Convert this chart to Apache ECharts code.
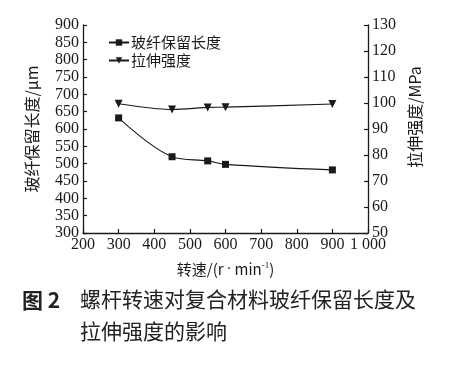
<!DOCTYPE html>
<html><head><meta charset="utf-8">
<script src="https://cdn.jsdelivr.net/npm/echarts@6/dist/echarts.min.js"></script>
<style>html,body{margin:0;padding:0;background:#fff}#c{width:454px;height:366px}</style>
</head><body><div id="c"></div>
<script>
const speeds = [300, 450, 550, 600, 900];
const fiberLength = [632, 520, 508, 498, 482];
const tensile = [99.7, 97.5, 98.3, 98.4, 99.6];
const seriesNames = ['玻纤保留长度', '拉伸强度'];
const xName = '转速/(r{s|·}min{sup|-1})';
const yLeftName = '玻纤保留长度/μm';
const yRightName = '拉伸强度/MPa';
const captionLabel = '图 2';
const captionLine1 = '螺杆转速对复合材料玻纤保留长度及';
const captionLine2 = '拉伸强度的影响';

const serif = '"Liberation Serif", "Times New Roman", serif';
const cjk = 'Noto Sans CJK SC';
const ink = '#1a1a1a';
const chart = echarts.init(document.getElementById('c'));
const axisCommon = {
  axisLine: {show: true, lineStyle: {color: ink, width: 1.3}},
  axisTick: {show: true, inside: true, length: 4, lineStyle: {color: ink, width: 1.2}},
  splitLine: {show: false},
  axisLabel: {color: ink, fontFamily: serif, fontSize: 16, margin: 4}
};
chart.setOption({
  animation: false,
  backgroundColor: '#fff',
  grid: {left: 83, right: 86, top: 25, bottom: 133},
  legend: {
    left: 103, top: 30, orient: 'vertical', itemGap: 3,
    itemWidth: 20, itemHeight: 8,
    textStyle: {fontFamily: cjk, fontSize: 15, color: ink, padding: [0,0,0,-3]},
    data: seriesNames
  },
  xAxis: Object.assign({}, axisCommon, {
    type: 'value', min: 200, max: 1000, interval: 100,
    name: xName, nameLocation: 'middle', nameGap: 28,
    nameTextStyle: {fontFamily: cjk, fontSize: 15, color: ink,
      rich: {
        s: {fontSize: 15, fontFamily: serif, padding: [0,3,0,3], color: ink},
        sup: {fontSize: 9, verticalAlign: 'top', padding: [0,0,8,0], fontFamily: serif, color: ink}
      }},
    axisLabel: Object.assign({}, axisCommon.axisLabel, {
      formatter: v => v === 1000 ? '1 000' : String(v)
    })
  }),
  yAxis: [
    Object.assign({}, axisCommon, {
      type: 'value', min: 300, max: 900, interval: 50, position: 'left',
      name: yLeftName, nameLocation: 'middle', nameGap: 43, nameRotate: 90,
      nameTextStyle: {fontFamily: cjk, fontSize: 16, color: ink}
    }),
    Object.assign({}, axisCommon, {
      type: 'value', min: 50, max: 130, interval: 10, position: 'right',
      name: yRightName, nameLocation: 'middle', nameGap: 28, nameRotate: 90,
      nameTextStyle: {fontFamily: cjk, fontSize: 16, color: ink, padding: [0,0,0,24]}
    })
  ],
  series: [
    {
      name: seriesNames[0], type: 'line', yAxisIndex: 0, smooth: 0.35,
      data: speeds.map((s, i) => [s, fiberLength[i]]),
      symbol: 'rect', symbolSize: 7,
      lineStyle: {color: ink, width: 1.1}, itemStyle: {color: ink}
    },
    {
      name: seriesNames[1], type: 'line', yAxisIndex: 1, smooth: 0.3,
      data: speeds.map((s, i) => [s, tensile[i]]),
      symbol: 'triangle', symbolRotate: 180, symbolSize: 8,
      lineStyle: {color: ink, width: 1.1}, itemStyle: {color: ink}
    }
  ],
  graphic: [
    {type: 'text', left: 22, top: 290, style: {text: captionLabel, font: 'bold 21px "Noto Sans CJK SC"', fill: '#222'}},
    {type: 'text', left: 80, top: 289, style: {text: captionLine1, font: '21px "Noto Sans CJK SC"', fill: '#222'}},
    {type: 'text', left: 80, top: 321, style: {text: captionLine2, font: '21px "Noto Sans CJK SC"', fill: '#222'}}
  ]
});
</script></body></html>
